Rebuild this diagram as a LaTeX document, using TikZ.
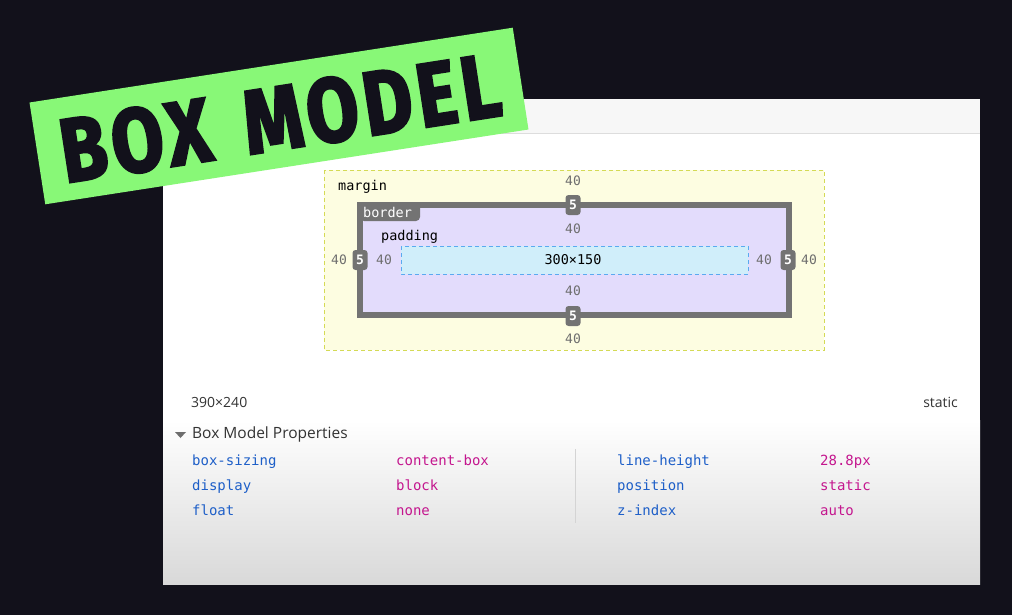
\documentclass[tikz,border=0pt]{standalone}
\usepackage{fontspec}
\setmainfont{Open Sans}
\newfontfamily\monof{DejaVu Sans Mono}
\newfontfamily\bannerf[LetterSpace=7,FakeBold=3]{Fira Sans}
\definecolor{bgdark}{HTML}{12111B}
\definecolor{bannergreen}{HTML}{88F877}
\definecolor{topbar}{HTML}{F7F7F7}
\definecolor{topline}{HTML}{DDDDDD}
\definecolor{marginfill}{HTML}{FDFDE1}
\definecolor{marginline}{HTML}{D4DA55}
\definecolor{bordergray}{HTML}{737373}
\definecolor{padfill}{HTML}{E3DCFC}
\definecolor{contentfill}{HTML}{D0EEFA}
\definecolor{contentline}{HTML}{5AAAF0}
\definecolor{numgray}{HTML}{6E6E6E}
\definecolor{propblue}{HTML}{1E5FC8}
\definecolor{propmag}{HTML}{C4168E}
\definecolor{sepgray}{HTML}{D4D4D4}
\definecolor{textdark}{HTML}{333333}
\tikzset{
  num/.style={text=numgray, font=\monof\fontsize{13}{15}\selectfont, inner sep=0pt, text height=11.5pt, text depth=2pt},
  lbl/.style={text=black, font=\monof\fontsize{13.5}{15}\selectfont, inner sep=0pt, anchor=west, text height=11.5pt, text depth=2pt},
  badge/.style={fill=bordergray, text=white, rounded corners=3pt, font=\monof\bfseries\fontsize{13}{15}\selectfont, minimum width=15pt, minimum height=20pt, inner sep=0pt},
  pkey/.style={text=propblue, font=\monof\fontsize{14}{16}\selectfont, inner sep=0pt, anchor=west, text height=11.5pt, text depth=2pt},
  pval/.style={pkey, text=propmag},
  sans/.style={text=textdark, font=\fontsize{14}{16}\selectfont, inner sep=0pt, text height=11.5pt, text depth=2pt}
}
\begin{document}
\begin{tikzpicture}[x=1pt,y=-1pt]
\useasboundingbox (0,0) rectangle (1012,615);
\fill[bgdark] (0,0) rectangle (1012,615);
% panel
\fill[white] (163,99) rectangle (980,584);
\fill[topbar] (163,99) rectangle (980,134);
\draw[topline, line width=1pt] (163,134) -- (980,134);
\shade[top color=white, bottom color=black!15] (163,420) rectangle (980,584);
% margin box
\draw[marginline, fill=marginfill, line width=1pt, dash pattern=on 4pt off 3pt] (324,170) rectangle (824,350);
\node[lbl] (mlabel) at (338,186) {margin};
\node[num] (mtop) at (573,181) {40};
\node[num] (mbot) at (573,339) {40};
\node[num] (mleft) at (339,260) {40};
\node[num] (mright) at (809,260) {40};
% border box
\draw[bordergray, fill=padfill, line width=6pt] (360,205) rectangle (789,315);
\fill[bordergray] (360,205) -- (420,205) -- (420,217) [rounded corners=4pt] -- (420,221) -- (360,221) -- cycle;
\node[lbl, text=white] (blabel) at (363,213) {border};
\node[badge] (btop) at (573,205) {5};
\node[badge] (bbot) at (573,316) {5};
\node[badge] (bleft) at (360,260) {5};
\node[badge] (bright) at (788,260) {5};
% padding
\node[lbl] (plabel) at (381,236) {padding};
\node[num] (ptop) at (573,229) {40};
\node[num] (pbot) at (573,291) {40};
\node[num] (pleft) at (384,260) {40};
\node[num] (pright) at (764,260) {40};
% content
\draw[contentline, fill=contentfill, line width=1pt, dash pattern=on 4pt off 3pt] (401,246) rectangle (748,274);
\node[num, text=black, font=\monof\fontsize{13.5}{15}\selectfont] (content) at (573,260) {300×150};
% bottom
\node[sans, anchor=west] (size) at (191,403) {390×240};
\node[sans, anchor=east] (pos) at (958,403) {static};
\fill[numgray] (175,432) -- (186,432) -- (180.5,438) -- cycle;
\node[sans, anchor=west, font=\fontsize{15.5}{18}\selectfont] (bmp) at (192,434) {Box Model Properties};
\draw[sepgray, line width=1pt] (575,449) -- (575,523);
\node[pkey] (k1) at (192,461) {box-sizing};
\node[pkey] (k2) at (192,486) {display};
\node[pkey] (k3) at (192,511) {float};
\node[pval] (v1) at (396,461) {content-box};
\node[pval] (v2) at (396,486) {block};
\node[pval] (v3) at (396,511) {none};
\node[pkey] (k4) at (617,461) {line-height};
\node[pkey] (k5) at (617,486) {position};
\node[pkey] (k6) at (617,511) {z-index};
\node[pval] (v4) at (820,461) {28.8px};
\node[pval] (v5) at (820,486) {static};
\node[pval] (v6) at (820,511) {auto};
% banner
\node[rotate=8.8, fill=bannergreen, minimum width=489pt, minimum height=103pt, inner sep=0pt] (banner) at (279,116) {};
\node[rotate=8.8, text=bgdark, inner sep=0pt] (title) at (280,118) {\resizebox{444pt}{64pt}{\bannerf\bfseries BOX\hspace{0.45em}MODEL}};
\end{tikzpicture}
\end{document}
